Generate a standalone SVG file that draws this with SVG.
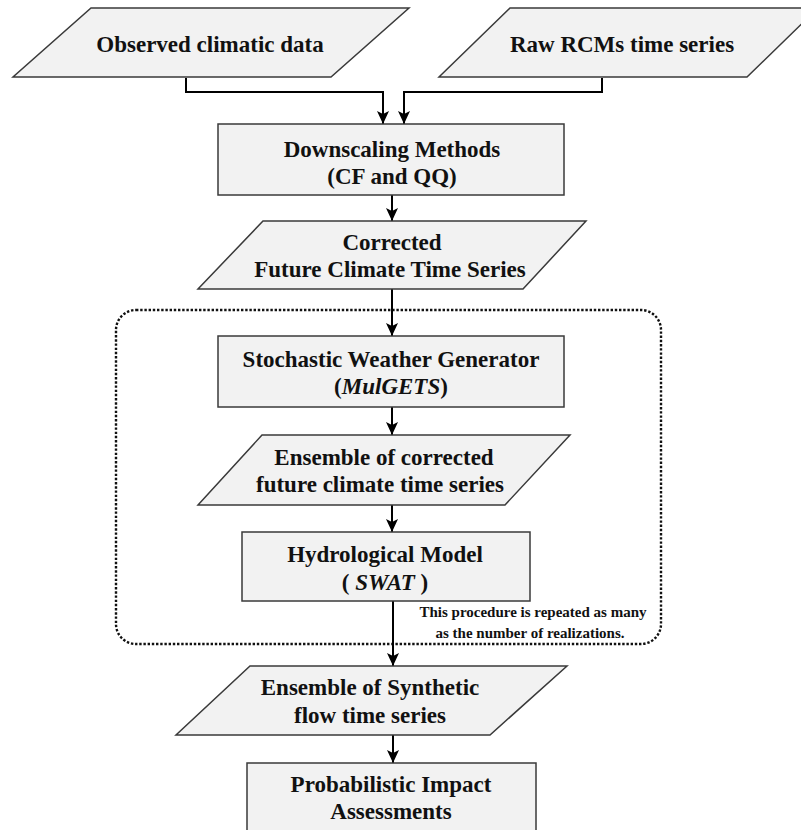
<svg xmlns="http://www.w3.org/2000/svg" width="801" height="830" viewBox="0 0 801 830">
<style>
.shape{fill:#f2f2f2;stroke:#3a3a3a;stroke-width:1.5}
.t{font-family:"Liberation Serif","Times New Roman",serif;font-weight:bold;font-size:23px;fill:#111;text-anchor:middle}
.note{font-family:"Liberation Serif","Times New Roman",serif;font-weight:bold;font-size:15px;fill:#111;text-anchor:middle}
.c{fill:none;stroke:#000;stroke-width:2}
</style>
<defs>
<marker id="arr" markerUnits="userSpaceOnUse" markerWidth="14" markerHeight="14" viewBox="0 0 14 14" refX="13" refY="7" orient="auto">
<path d="M0,1 L13,7 L0,13 L3,7 Z" fill="#000"/>
</marker>
</defs>
<rect width="801" height="830" fill="#fff"/>
<g id="loop">
<rect x="116" y="310" width="545" height="334" rx="20" ry="20" fill="none" stroke="#111" stroke-width="2.4" stroke-dasharray="2.4 1.8"/>
<text class="note" x="533" y="617">This procedure is repeated as many</text>
<text class="note" x="530" y="638">as the number of realizations.</text>
</g>
<g id="connectors">
<polyline class="c" points="186,78 186,92 383,92 383,124" marker-end="url(#arr)"/>
<polyline class="c" points="602,78 602,92 404,92 404,124" marker-end="url(#arr)"/>
<line class="c" x1="392" y1="195" x2="392" y2="221" marker-end="url(#arr)"/>
<line class="c" x1="392" y1="289" x2="392" y2="336" marker-end="url(#arr)"/>
<line class="c" x1="392" y1="407" x2="392" y2="435" marker-end="url(#arr)"/>
<line class="c" x1="392" y1="505" x2="392" y2="532" marker-end="url(#arr)"/>
<line class="c" x1="393" y1="601" x2="393" y2="666" marker-end="url(#arr)"/>
<line class="c" x1="393" y1="735" x2="393" y2="763" marker-end="url(#arr)"/>
</g>
<g id="observed">
<polygon class="shape" points="91,8 409,8 331,77 13,77"/>
<text class="t" x="210" y="52">Observed climatic data</text>
</g>
<g id="raw">
<polygon class="shape" points="510,8 818,8 747,77 439,77"/>
<text class="t" x="622" y="52">Raw RCMs time series</text>
</g>
<g id="downscaling">
<rect class="shape" x="218" y="124" width="346" height="71"/>
<text class="t" x="392" y="157">Downscaling Methods</text>
<text class="t" x="392" y="184">(CF and QQ)</text>
</g>
<g id="corrected">
<polygon class="shape" points="263,221 586,221 523,289 198,289"/>
<text class="t" x="392" y="250">Corrected</text>
<text class="t" x="390" y="277">Future Climate Time Series</text>
</g>
<g id="generator">
<rect class="shape" x="218" y="336" width="346" height="71"/>
<text class="t" x="391" y="367">Stochastic Weather Generator</text>
<text class="t" x="391" y="394">(<tspan font-style="italic">MulGETS</tspan>)</text>
</g>
<g id="ensemble">
<polygon class="shape" points="262,435 570,435 505,505 198,505"/>
<text class="t" x="384" y="465">Ensemble of corrected</text>
<text class="t" x="380" y="492">future climate time series</text>
</g>
<g id="hydro">
<rect class="shape" x="242" y="532" width="288" height="69"/>
<text class="t" x="385" y="562">Hydrological Model</text>
<text class="t" x="385" y="590">( <tspan font-style="italic">SWAT</tspan> )</text>
</g>
<g id="synthetic">
<polygon class="shape" points="250,666 567,666 490,735 176,735"/>
<text class="t" x="370" y="695">Ensemble of Synthetic</text>
<text class="t" x="370" y="723">flow time series</text>
</g>
<g id="probabilistic">
<rect class="shape" x="247" y="763" width="289" height="75"/>
<text class="t" x="391" y="792">Probabilistic Impact</text>
<text class="t" x="391" y="819">Assessments</text>
</g>
</svg>
